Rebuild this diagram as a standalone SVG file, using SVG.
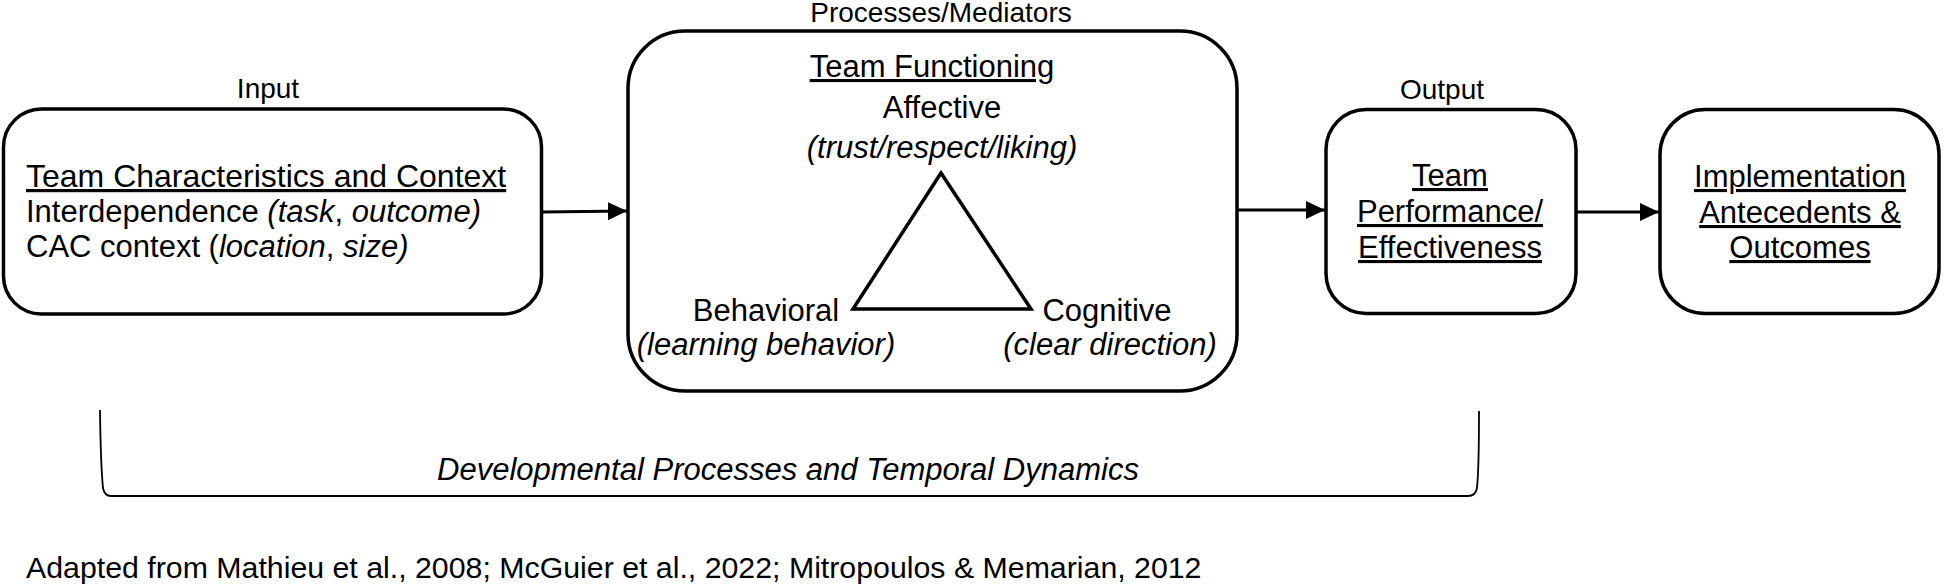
<svg xmlns="http://www.w3.org/2000/svg" width="1945" height="587" viewBox="0 0 1945 587">
<style>
text{font-family:"Liberation Sans",Arial,sans-serif;fill:#000}
.lbl{font-size:28px;text-anchor:middle}
.t{font-size:31px}
.c{text-anchor:middle}
.u{text-decoration:underline}
.i{font-style:italic}
.box{fill:#fff;stroke:#000;stroke-width:3.5}
.conn{stroke:#000;stroke-width:3;fill:none}
</style>
<defs>
<marker id="arr" markerUnits="userSpaceOnUse" markerWidth="19" markerHeight="18" refX="19" refY="9" orient="auto">
<path d="M0,0 L19,9 L0,18 z" fill="#000"/>
</marker>
</defs>
<g id="input">
<text class="lbl" x="268" y="98">Input</text>
<rect class="box" x="3.5" y="109" width="538" height="205" rx="38"/>
<text class="t u" x="26" y="187" style="font-size:32px">Team Characteristics and Context</text>
<text class="t" x="26" y="222">Interdependence <tspan class="i">(task</tspan>, <tspan class="i">outcome)</tspan></text>
<text class="t" x="26" y="257">CAC context (<tspan class="i">location</tspan>, <tspan class="i">size)</tspan></text>
</g>
<g id="processes">
<text class="lbl" x="941" y="22">Processes/Mediators</text>
<rect class="box" x="628" y="31" width="609" height="360" rx="57"/>
<text class="t c u" x="932" y="77">Team Functioning</text>
<text class="t c" x="942" y="118">Affective</text>
<text class="t c i" x="942" y="158">(trust/respect/liking)</text>
<polygon points="941,173 853,309 1031,309" fill="none" stroke="#000" stroke-width="3.5"/>
<text class="t c" x="766" y="321">Behavioral</text>
<text class="t c i" x="766" y="355">(learning behavior)</text>
<text class="t c" x="1107" y="321">Cognitive</text>
<text class="t c i" x="1110" y="355">(clear direction)</text>
</g>
<g id="output">
<text class="lbl" x="1442" y="99">Output</text>
<rect class="box" x="1326" y="109.5" width="250" height="204" rx="40"/>
<text class="t c u" x="1450" y="186">Team</text>
<text class="t c u" x="1450" y="222">Performance/</text>
<text class="t c u" x="1450" y="258">Effectiveness</text>
</g>
<g id="implementation">
<rect class="box" x="1660" y="109.5" width="279" height="204" rx="45"/>
<text class="t c u" x="1800" y="187">Implementation</text>
<text class="t c u" x="1800" y="223">Antecedents &amp;</text>
<text class="t c u" x="1800" y="258">Outcomes</text>
</g>
<g id="connectors">
<line class="conn" x1="542" y1="212" x2="627" y2="211" marker-end="url(#arr)"/>
<line class="conn" x1="1238" y1="210" x2="1325" y2="210" marker-end="url(#arr)"/>
<line class="conn" x1="1577" y1="212" x2="1659" y2="212" marker-end="url(#arr)"/>
</g>
<g id="temporal">
<path d="M100,410 C100.5,450 102,478 103,488 Q104.5,496 111,496 L1468,496 Q1475.5,496 1477,488 C1478,478 1479,450 1479,411" fill="none" stroke="#000" stroke-width="1.8"/>
<text class="t c i" x="788" y="480">Developmental Processes and Temporal Dynamics</text>
</g>
<text x="26" y="578" style="font-size:30.3px">Adapted from Mathieu et al., 2008; McGuier et al., 2022; Mitropoulos &amp; Memarian, 2012</text>
</svg>
